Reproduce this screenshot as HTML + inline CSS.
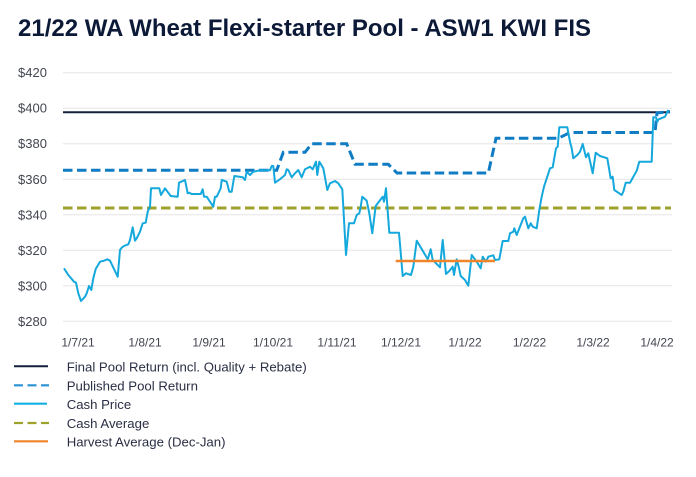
<!DOCTYPE html>
<html>
<head>
<meta charset="utf-8">
<style>
html,body{margin:0;padding:0;background:#fff;}
body{width:696px;height:477px;overflow:hidden;}
svg{display:block;}
</style>
</head>
<body>
<svg width="696" height="477" viewBox="0 0 696 477" xmlns="http://www.w3.org/2000/svg">
<rect width="696" height="477" fill="#ffffff"/>
<text x="18" y="36" font-family="Liberation Sans, Arial, sans-serif" font-size="24" font-weight="bold" fill="#0c1a38">21/22 WA Wheat Flexi-starter Pool - ASW1 KWI FIS</text>

<g stroke="#e6e6e6" stroke-width="1">
<line x1="63" y1="72.7" x2="672" y2="72.7"/>
<line x1="63" y1="108.2" x2="672" y2="108.2"/>
<line x1="63" y1="143.7" x2="672" y2="143.7"/>
<line x1="63" y1="179.3" x2="672" y2="179.3"/>
<line x1="63" y1="214.8" x2="672" y2="214.8"/>
<line x1="63" y1="250.3" x2="672" y2="250.3"/>
<line x1="63" y1="285.8" x2="672" y2="285.8"/>
<line x1="63" y1="321.3" x2="672" y2="321.3"/>
</g>

<g font-family="Liberation Sans, Arial, sans-serif" font-size="13" fill="#424650">
<text x="18" y="77.2">$420</text>
<text x="18" y="112.7">$400</text>
<text x="18" y="148.2">$380</text>
<text x="18" y="183.8">$360</text>
<text x="18" y="219.3">$340</text>
<text x="18" y="254.8">$320</text>
<text x="18" y="290.3">$300</text>
<text x="18" y="325.8">$280</text>
</g>

<g font-family="Liberation Sans, Arial, sans-serif" font-size="12" fill="#424650" text-anchor="middle">
<text x="78" y="346.5">1/7/21</text>
<text x="145" y="346.5">1/8/21</text>
<text x="209" y="346.5">1/9/21</text>
<text x="273" y="346.5">1/10/21</text>
<text x="337" y="346.5">1/11/21</text>
<text x="401" y="346.5">1/12/21</text>
<text x="465" y="346.5">1/1/22</text>
<text x="529.5" y="346.5">1/2/22</text>
<text x="593" y="346.5">1/3/22</text>
<text x="657" y="346.5">1/4/22</text>
</g>

<!-- Cash average -->
<line x1="63" y1="208" x2="671" y2="208" stroke="#9ea22c" stroke-width="3" stroke-dasharray="9.5 4.5"/>
<!-- Final pool return -->
<line x1="63" y1="112.3" x2="670" y2="112.3" stroke="#14213d" stroke-width="2"/>
<!-- Published pool return -->
<path d="M63,170.3 L276.7,170.3 L283.3,152.3 L305,152.3 L311.7,143.7 L346.7,143.7 L355,164.3 L388.3,164.3 L397,173 L488.3,173 L496,138.3 L558.3,138.3 L570,132.5 L655,132.5 L657,113 L670,111.5" fill="none" stroke="#0f7cc4" stroke-width="3" stroke-dasharray="9.5 4.5"/>
<!-- Cash price -->
<polyline fill="none" stroke="#15a8dc" stroke-width="2" stroke-linejoin="round" points="64,268.3 68.3,275 74,281.7 76,282.7 78.3,293.3 81,301 85,296.7 86.7,293.3 89,286 91.3,290 93.3,278.3 95.7,269 100,261.7 104,260.7 107.3,259.3 110,260.7 117.7,276.7 120,250 121.7,247.7 124,246 128.3,244.3 130,240 132.7,227.3 135,240.7 136.7,238.3 140,231.7 142.7,223.3 145.7,222.7 147.7,211.7 150,206.7 151,188.3 159.3,188.3 161,195 165,188.3 170.7,196 177.7,196.7 179,182.7 185,180 187.7,193.3 189.3,192.7 191.7,194 200.7,194 202.7,189.3 204,196.7 206.7,196.7 213.3,206.7 215,196.7 216.7,196.7 220.7,188.3 221.7,180 226.7,181.7 229.3,191.7 231.7,191.7 234.3,176 242.7,177.3 245,180 246.7,171.7 250,175 253.3,171.7 260,170.3 270,170.3 271.7,166 273.3,166 275,182.7 280,179.3 285,175 286.7,169.3 288.3,170 291.7,177.3 295,173.3 298.3,170 301.7,177.3 305,169.3 310,166.7 312.7,169.3 316,161.7 317.3,175 319.3,161.7 323.3,168.3 327.3,190 330,183.3 335,181 338.3,183.3 342.3,189.3 346,255 349,223.3 354,223.3 356.7,215 359.3,213.3 360.7,206.7 362.3,196.7 366.7,200.7 369.3,213.3 372.3,233.3 375.7,206 382.7,196.7 384,201.7 386,188.3 389.3,232.7 399,232.7 402.7,276 406,273.3 411,275 413.3,266.7 416.7,240.7 423.3,251.7 427.7,259.3 430.7,249.3 432.7,260 436,263.3 440,267.3 442.7,240 446,274 449.3,271 452.7,266.7 454,275 456.7,259.3 459.3,269.3 460.7,276 465,280 468.3,285.7 471.7,255 476.7,261.7 480.7,268.3 482.7,256.7 486,261.7 488.3,256.7 493.3,255.3 495,260 499.3,259.3 502.7,241 508.3,241 510,233.3 513.3,231.7 514.3,228.3 516.7,235 523.3,218.3 525,216.7 528.3,228.3 530.7,223.3 532.7,226.7 536.7,228.3 539.3,210 541.7,196.7 544,186.7 550,168.3 552.7,167.3 556,148.3 557.7,146.7 559.3,127.3 567.3,127.3 570,141.7 571.7,148.3 573.3,158.3 577.3,155 580,151.7 582.7,144 586,157.3 588.3,153.3 592.7,173.3 595.7,152.7 600,156 607.3,158.3 610.7,178.3 612.7,176.7 614.3,190 618.3,192.7 621.7,195 623.3,191.7 625.7,182.7 630,182.7 636.7,170.7 639.3,161.7 651.7,161.7 653.3,117.3 656,117.3 657.3,121.7 658.7,119.3 665,116.7 668.3,110"/>
<!-- Harvest average (on top) -->
<line x1="395.7" y1="261" x2="495" y2="261" stroke="#f0842a" stroke-width="2.4"/>

<!-- Legend -->
<line x1="14" y1="366.3" x2="48" y2="366.3" stroke="#14213d" stroke-width="2"/>
<line x1="14" y1="385.3" x2="49" y2="385.3" stroke="#2a90d4" stroke-width="2.2" stroke-dasharray="9 4.5"/>
<line x1="14" y1="403.7" x2="47" y2="403.7" stroke="#15b0e3" stroke-width="2.2"/>
<line x1="14" y1="423" x2="49" y2="423" stroke="#9ea22c" stroke-width="2.2" stroke-dasharray="9 4.5"/>
<line x1="14" y1="441.3" x2="48" y2="441.3" stroke="#f0842a" stroke-width="2.2"/>

<g font-family="Liberation Sans, Arial, sans-serif" font-size="13.2" fill="#2b2f45">
<text x="66.7" y="371.5">Final Pool Return (incl. Quality + Rebate)</text>
<text x="66.7" y="390.5">Published Pool Return</text>
<text x="66.7" y="408.8">Cash Price</text>
<text x="66.7" y="428">Cash Average</text>
<text x="66.7" y="446.5">Harvest Average (Dec-Jan)</text>
</g>
</svg>
</body>
</html>
